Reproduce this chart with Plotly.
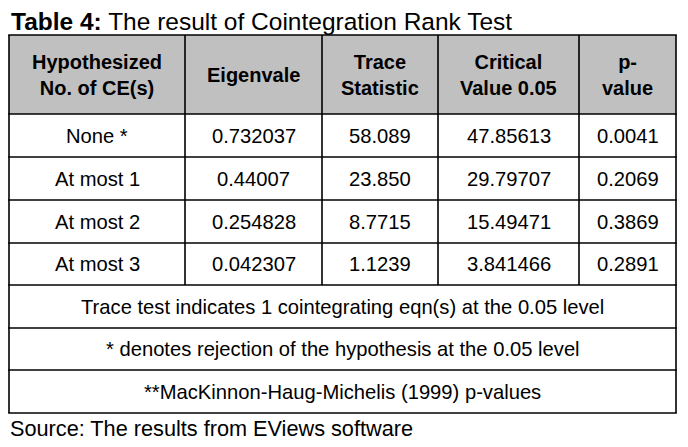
import plotly.graph_objects as go

title_bold = "Table 4:"
title_rest = " The result of Cointegration Rank Test"
headers = ["Hypothesized<br>No. of CE(s)", "Eigenvale", "Trace<br>Statistic", "Critical<br>Value 0.05", "p-<br>value"]
hypotheses = ["None *", "At most 1", "At most 2", "At most 3"]
eigenvalues = ["0.732037", "0.44007", "0.254828", "0.042307"]
trace_stats = ["58.089", "23.850", "8.7715", "1.1239"]
critical_values = ["47.85613", "29.79707", "15.49471", "3.841466"]
p_values = ["0.0041", "0.2069", "0.3869", "0.2891"]
notes = [
    "Trace test indicates 1 cointegrating eqn(s) at the 0.05 level",
    "* denotes rejection of the hypothesis at the 0.05 level",
    "**MacKinnon-Haug-Michelis (1999) p-values",
]
source = "Source: The results from EViews software"

W, H = 688, 447
OFF = 8  # browser body margin
col_edges = [9, 185, 322, 438, 579, 676]
row_edges = [35, 114, 157, 200, 243, 285, 328, 370, 413]
FONT = "Liberation Sans, Arial, sans-serif"
LW = 1.6

fig = go.Figure()
fig.add_trace(go.Scatter(x=[OFF, W], y=[OFF, H], mode="markers", marker=dict(opacity=0), hoverinfo="skip", showlegend=False))

shapes = []
shapes.append(dict(type="rect", x0=col_edges[0], x1=col_edges[-1], y0=row_edges[0], y1=row_edges[1],
                   fillcolor="#c0c0c0", line=dict(width=0), layer="below"))
for y in row_edges:
    shapes.append(dict(type="line", x0=col_edges[0] - LW / 2, x1=col_edges[-1] + LW / 2, y0=y, y1=y,
                       line=dict(color="black", width=LW)))
for i, x in enumerate(col_edges):
    y1 = row_edges[-1] if i in (0, len(col_edges) - 1) else row_edges[5]
    shapes.append(dict(type="line", x0=x, x1=x, y0=row_edges[0], y1=y1, line=dict(color="black", width=LW)))

ann = []
def txt(x, y, s, size=20, xanchor="center", bold=False):
    ann.append(dict(x=x, y=y, text=(f"<b>{s}</b>" if bold else s), showarrow=False, xref="x", yref="y",
                    xanchor=xanchor, yanchor="middle", align="center",
                    font=dict(family=FONT, size=size, color="black")))

centers = [(col_edges[i] + col_edges[i + 1]) / 2 for i in range(5)]
txt(9, 21, f"<b>{title_bold}</b>{title_rest}", size=24.5, xanchor="left")
hy = (row_edges[0] + row_edges[1]) / 2
for c, h in zip(centers, headers):
    txt(c, hy, h, bold=True)
cols = [hypotheses, eigenvalues, trace_stats, critical_values, p_values]
for r in range(4):
    yc = (row_edges[1 + r] + row_edges[2 + r]) / 2
    for c, col in zip(centers, cols):
        txt(c, yc, col[r], size=20.2)
mid = (col_edges[0] + col_edges[-1]) / 2
for k, n in enumerate(notes):
    yc = (row_edges[5 + k] + row_edges[6 + k]) / 2
    txt(mid, yc, n, size=20.2)
txt(8, 428, source, size=21.7, xanchor="left")

fig.update_layout(
    width=W, height=H, margin=dict(l=0, r=0, t=0, b=0),
    paper_bgcolor="white", plot_bgcolor="white",
    xaxis=dict(range=[OFF, W + OFF], visible=False, fixedrange=True),
    yaxis=dict(range=[H + OFF, OFF], visible=False, fixedrange=True),
    shapes=shapes, annotations=ann, showlegend=False,
)
fig.write_html("out.html")
